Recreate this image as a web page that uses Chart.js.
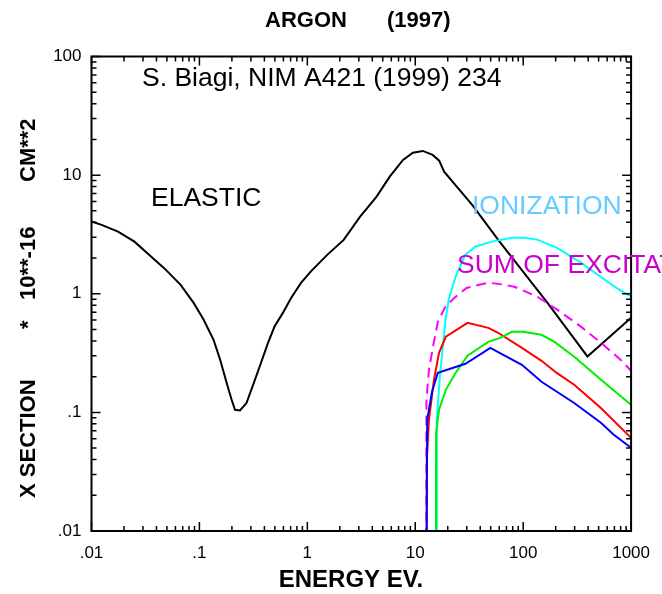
<!DOCTYPE html>
<html>
<head>
<meta charset="utf-8">
<script src="https://cdn.jsdelivr.net/npm/chart.js@4.4.1/dist/chart.umd.min.js"></script>
<style>
  html, body { margin: 0; padding: 0; background: #fff; }
  #chart { display: block; }
</style>
</head>
<body>
<canvas id="chart" width="662" height="594"></canvas>
<script>
// energy in eV, cross section in 10**-16 cm**2
var elasticE = [0.01, 0.0124, 0.0176, 0.0250, 0.0356, 0.0471, 0.0670, 0.0887, 0.1095, 0.1352,
                0.1557, 0.1789, 0.1988, 0.2137, 0.2374, 0.2729, 0.3144, 0.3619, 0.4311, 0.4966,
                0.5916, 0.7047, 0.870, 1.074, 1.528, 2.173, 3.083, 4.385, 5.80, 7.70,
                9.51, 11.74, 14.50, 16.66, 18.51, 33.7, 58.7, 168, 394, 1000];
var elasticQ = [4.06, 3.81, 3.34, 2.75, 2.06, 1.643, 1.189, 0.833, 0.603, 0.409,
                0.2774, 0.1765, 0.1277, 0.1052, 0.1038, 0.1198, 0.1708, 0.2436, 0.3836, 0.5294,
                0.6865, 0.918, 1.228, 1.538, 2.127, 2.846, 4.47, 6.59, 9.71, 13.43,
                15.47, 16.0, 14.80, 13.25, 10.70, 5.61, 2.85, 0.838, 0.296, 0.627];

var ionE = [15.8, 15.85, 16.9, 17.9, 19.1, 20.4, 23.6, 29.1, 35.9, 51.4, 78.3, 103, 135, 206, 342, 521, 730, 1000];
var ionQ = [0.001, 0.0865, 0.200, 0.337, 0.604, 0.889, 1.39, 2.13, 2.49, 2.75, 2.97, 2.97, 2.86, 2.44, 1.83, 1.39, 1.12, 0.944];

var excE = [12.6, 12.7, 13.4, 14.6, 16.2, 19.2, 23.7, 29.9, 47.5, 67.9, 83.9, 136, 208, 345, 525, 802, 1000];
var excQ = [0.001, 0.128, 0.229, 0.357, 0.580, 0.791, 0.942, 1.12, 1.24, 1.19, 1.14, 0.942, 0.731, 0.526, 0.386, 0.277, 0.224];

var redE = [12.7, 12.8, 13.4, 14.9, 16.6, 19.2, 30.5, 47.5, 58.6, 97.3, 148, 203, 297, 525, 1000];
var redQ = [0.001, 0.040, 0.0867, 0.188, 0.318, 0.434, 0.569, 0.516, 0.469, 0.350, 0.272, 0.216, 0.171, 0.109, 0.061];

var greenE = [15.5, 15.6, 16.6, 19.2, 23.7, 30.5, 47.5, 61.2, 78.9, 99.3, 148, 195, 297, 391, 596, 1000];
var greenQ = [0.001, 0.0673, 0.105, 0.155, 0.216, 0.300, 0.393, 0.425, 0.478, 0.478, 0.451, 0.393, 0.294, 0.238, 0.171, 0.116];

var blueE = [12.6, 12.9, 14.3, 16.2, 29.2, 49.6, 97.3, 148, 297, 525, 691, 1000];
var blueQ = [0.001, 0.0867, 0.149, 0.216, 0.257, 0.350, 0.252, 0.181, 0.120, 0.0817, 0.0648, 0.0503];

var xTicks = [0.01, 0.1, 1, 10, 100, 1000];
var xTickLabels = ['.01', '.1', '1', '10', '100', '1000'];
var yTicks = [0.01, 0.1, 1, 10, 100];
var yTickLabels = ['.01', '.1', '1', '10', '100'];

var FONT = '"Liberation Sans", Arial, Helvetica, sans-serif';

function pts(e, q) {
  var out = [];
  for (var i = 0; i < e.length; i++) {
    out.push({x: e[i], y: q[i]});
  }
  return out;
}

function line(e, q, color, dash) {
  return {
    data: pts(e, q),
    borderColor: color,
    borderWidth: 2,
    borderDash: dash || [],
    pointRadius: 0,
    fill: false,
    tension: 0
  };
}

// box round the plot, with minor/major ticks pointing inward on all four sides
var frame = {
  id: 'frame',
  afterDatasetsDraw: function(chart) {
    var ctx = chart.ctx, a = chart.chartArea;
    var xs = chart.scales.x, ys = chart.scales.y;
    ctx.save();
    ctx.strokeStyle = '#000';
    ctx.lineWidth = 1.5;
    ctx.beginPath();
    for (var i = 0; i < xTicks.length; i++) {
      for (var m = 1; m < 10; m++) {
        if (i == xTicks.length - 1 && m > 1) break;
        var px = xs.getPixelForValue(xTicks[i] * m);
        var len = (m == 1) ? 9 : 5;
        ctx.moveTo(px, a.bottom); ctx.lineTo(px, a.bottom - len);
        ctx.moveTo(px, a.top); ctx.lineTo(px, a.top + len);
      }
    }
    for (var j = 0; j < yTicks.length; j++) {
      for (var n = 1; n < 10; n++) {
        if (j == yTicks.length - 1 && n > 1) break;
        var py = ys.getPixelForValue(yTicks[j] * n);
        var ln = (n == 1) ? 9 : 5;
        ctx.moveTo(a.left, py); ctx.lineTo(a.left + ln, py);
        ctx.moveTo(a.right, py); ctx.lineTo(a.right - ln, py);
      }
    }
    ctx.stroke();
    ctx.lineWidth = 2;
    ctx.strokeRect(a.left, a.top, a.right - a.left, a.bottom - a.top);
    ctx.restore();
  }
};

// heading, axis titles and curve labels
var texts = {
  id: 'texts',
  afterDraw: function(chart) {
    var ctx = chart.ctx;
    ctx.save();
    ctx.textBaseline = 'alphabetic';
    ctx.textAlign = 'left';
    ctx.fillStyle = '#000';
    ctx.font = 'bold 22px ' + FONT;
    ctx.fillText('ARGON', 265, 27);
    ctx.fillText('(1997)', 387, 27);

    ctx.font = 'bold 24px ' + FONT;
    ctx.textAlign = 'center';
    ctx.fillText('ENERGY EV.', 351, 587);
    ctx.textAlign = 'left';

    ctx.font = '26.5px ' + FONT;
    ctx.fillText('S. Biagi, NIM A421 (1999) 234', 142, 86);
    ctx.fillText('ELASTIC', 151, 206);
    ctx.fillStyle = '#66ccff';
    ctx.fillText('IONIZATION', 472, 214);
    ctx.fillStyle = '#cc00cc';
    ctx.fillText('SUM OF EXCITATION', 457, 273);

    ctx.fillStyle = '#000';
    ctx.font = 'bold 22px ' + FONT;
    ctx.translate(35, 0);
    ctx.rotate(-Math.PI / 2);
    ctx.fillText('X SECTION', -498, 0);
    ctx.fillText('*', -329, 0);
    ctx.fillText('10**-16', -300, 0);
    ctx.fillText('CM**2', -182, 0);
    ctx.restore();
  }
};

Chart.defaults.font.family = FONT;
Chart.defaults.color = '#000';

new Chart(document.getElementById('chart'), {
  type: 'line',
  data: {
    datasets: [
      line(blueE, blueQ, '#0000ff'),
      line(greenE, greenQ, '#00ee00'),
      line(redE, redQ, '#ff0000'),
      line(excE, excQ, '#ff00ff', [10, 6]),
      line(ionE, ionQ, '#00ffff'),
      line(elasticE, elasticQ, '#000000')
    ]
  },
  options: {
    responsive: false,
    animation: false,
    layout: { padding: { left: 0, right: 24.5, top: 56.5, bottom: 0 } },
    plugins: {
      legend: { display: false },
      tooltip: { enabled: false }
    },
    scales: {
      x: {
        type: 'logarithmic',
        position: 'bottom',
        min: 0.01,
        max: 1000,
        grid: { display: false, drawTicks: false },
        border: { display: false },
        afterBuildTicks: function(s) {
          s.ticks = xTicks.map(function(v) { return {value: v}; });
        },
        afterFit: function(s) { s.height = 63; },
        ticks: {
          font: { size: 17 },
          padding: 12,
          autoSkip: false,
          maxRotation: 0,
          callback: function(v, i) { return xTickLabels[i]; }
        }
      },
      y: {
        type: 'logarithmic',
        position: 'left',
        min: 0.01,
        max: 100,
        grid: { display: false, drawTicks: false },
        border: { display: false },
        afterBuildTicks: function(s) {
          s.ticks = yTicks.map(function(v) { return {value: v}; });
        },
        afterFit: function(s) { s.width = 91.5; },
        ticks: {
          font: { size: 17 },
          padding: 10,
          autoSkip: false,
          callback: function(v, i) { return yTickLabels[i]; }
        }
      }
    }
  },
  plugins: [frame, texts]
});
</script>
</body>
</html>
